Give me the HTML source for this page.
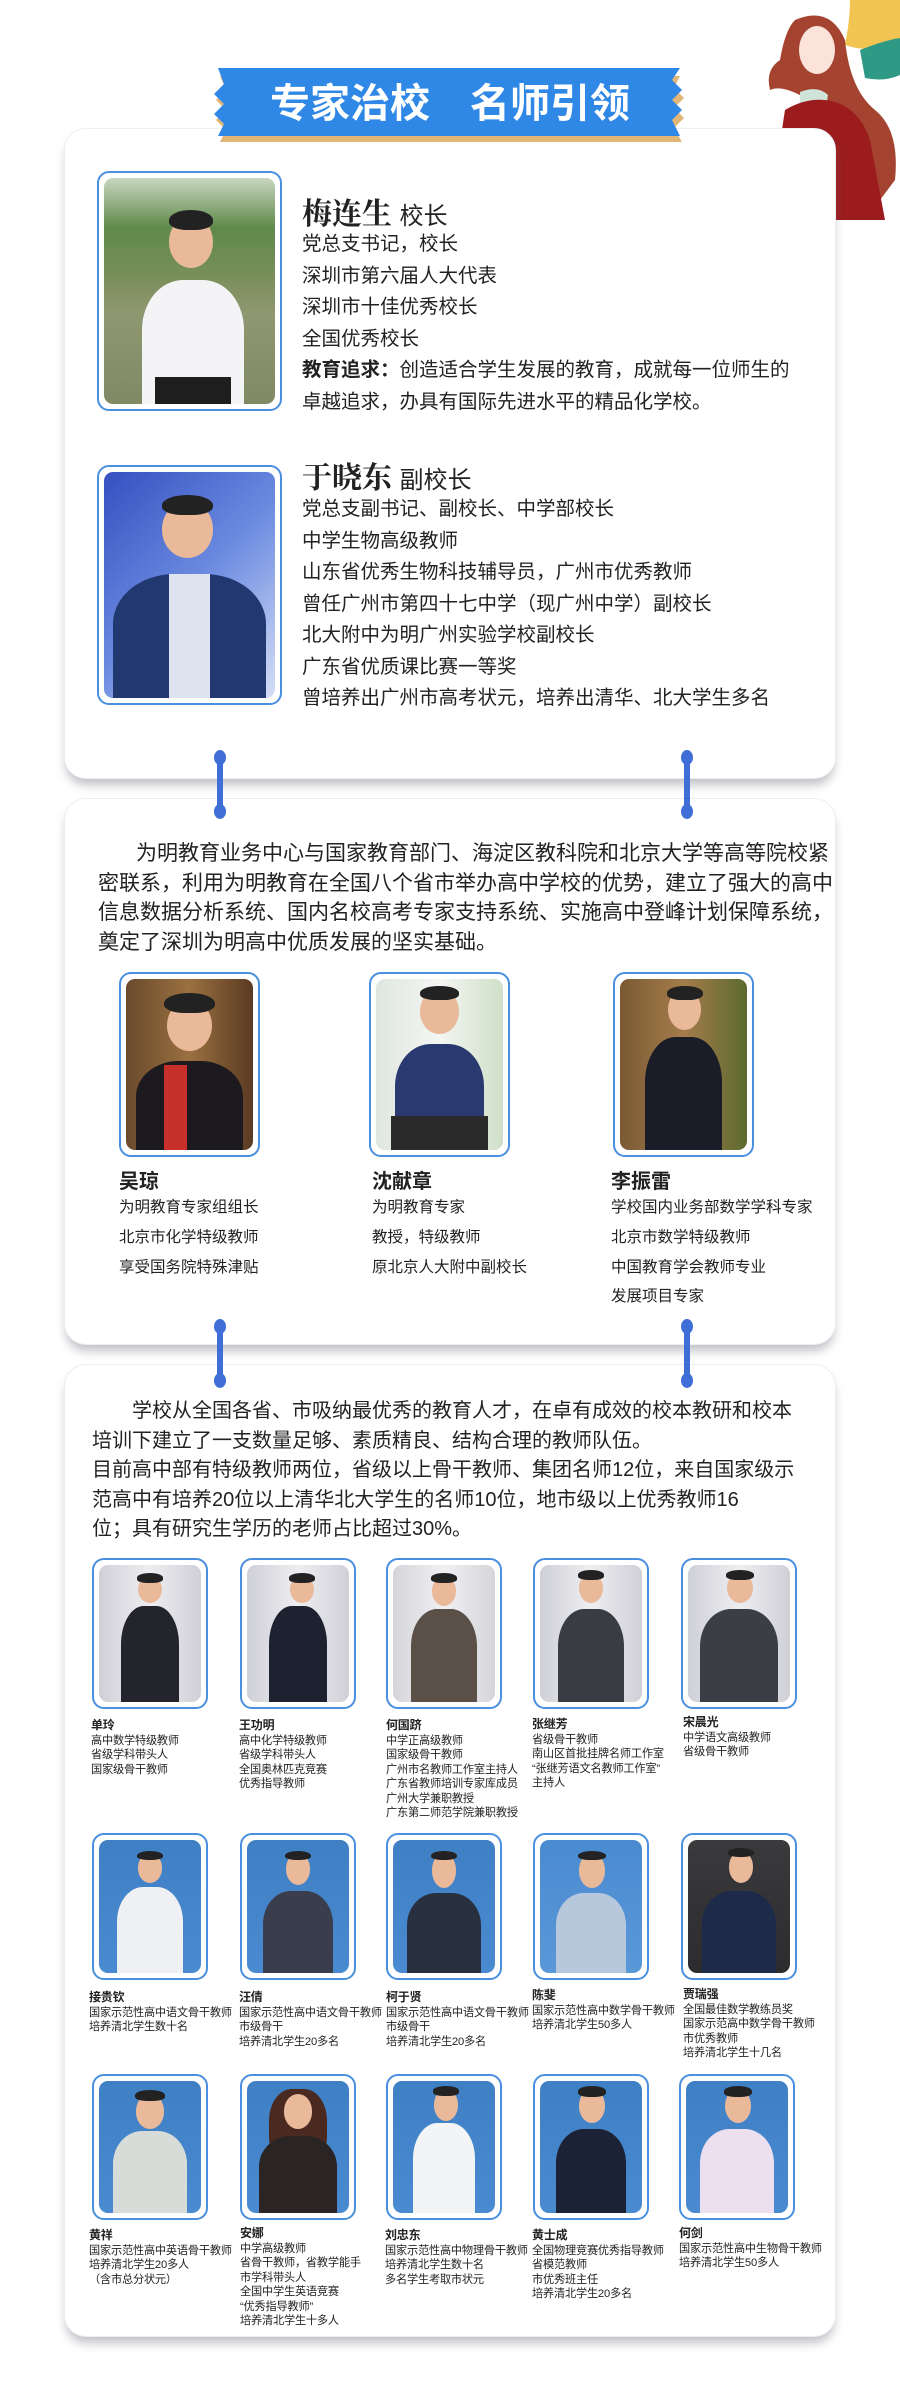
<!DOCTYPE html>
<html><head><meta charset="utf-8"><style>
*{margin:0;padding:0;box-sizing:border-box}
body{width:900px;height:2405px;background:#fff;position:relative;overflow:hidden;font-family:"Liberation Sans","Noto Sans CJK SC",sans-serif;color:#222}
.a{position:absolute}
.card{position:absolute;left:64px;width:772px;background:#fff;border-radius:22px;border:1px solid #eceef2;box-shadow:0 8px 10px -2px rgba(120,120,130,.45)}
.fr{position:absolute;border:2.5px solid #4a8fe0;border-radius:12px;background:#fff;padding:5px}
.in{width:100%;height:100%;border-radius:9px;position:relative;overflow:hidden}
.hd{position:absolute;border-radius:50%;background:#e9b99a}
.hr{position:absolute;border-radius:50% 50% 40% 40%;background:#222}
.bd{position:absolute;border-radius:40% 40% 0 0}
.t{position:absolute;white-space:nowrap}
.l20{font-size:19.5px;line-height:31.5px}
.nm{font-size:20px;font-weight:bold}
.ex{font-size:15.5px;line-height:29.8px}
.g{font-size:11.2px;line-height:14.5px;color:#222;letter-spacing:-.2px}
.g b{font-size:12px}
.con{position:absolute;width:6px;background:#3f6fd6;border-radius:3px}
.dot{position:absolute;width:12px;height:15px;background:#3f6fd6;border-radius:50%}
</style></head><body>

<!-- decoration -->
<svg class="a" style="left:700px;top:0" width="200" height="220" viewBox="0 0 200 220">
<path d="M150 0 L200 0 L200 40 Q175 55 145 45 Q150 20 150 0Z" fill="#f2c552"/>
<path d="M160 50 Q185 40 200 38 L200 75 Q185 82 165 78Z" fill="#2e9a86"/>
<path d="M95 20 Q130 5 145 40 Q150 90 175 110 Q200 130 195 180 L180 200 Q170 140 150 120 L100 95 Q80 85 70 90 Q65 70 80 60 Q85 30 95 20Z" fill="#a4432f"/>
<ellipse cx="117" cy="50" rx="18" ry="24" fill="#fbe3da"/>
<path d="M100 92 Q118 85 128 95 L125 115 Q112 120 100 112Z" fill="#cfe3d8"/>
<path d="M85 110 Q110 95 135 102 Q160 110 170 140 L185 220 L80 220 Q75 170 85 110Z" fill="#9c1c1e"/>
<path d="M22 158 L75 140 L108 178 L60 205Z" fill="#f1f2ff" stroke="#9aa6e6" stroke-width="3"/>
</svg>

<!-- card 1 -->
<div class="card" style="top:128px;height:651px"></div>
<svg class="a" style="left:214px;top:64px" width="472" height="90" viewBox="0 0 472 90">
<polygon points="6,12 466,12 460,24 470,34 460,44 470,54 460,64 468,78 6,78 12,66 2,56 12,46 2,36 12,26" fill="#e2b676"/>
<polygon points="4,4 466,4 458,16 468,26 458,36 468,46 458,56 466,72 4,72 10,60 0,50 10,40 0,30 10,20" fill="#2f88e6"/>
<text x="236" y="53" text-anchor="middle" fill="#fff" font-size="40" font-weight="bold" font-family="Liberation Sans,Noto Sans CJK SC,sans-serif">专家治校　名师引领</text>
</svg>

<div class="fr" style="left:97px;top:171px;width:185px;height:240px"><div class="in" style="background:linear-gradient(#c8d6c0 0%,#5f8a4a 22%,#7b8f5c 45%,#8f9870 60%,#7f8964 100%)">
<div class="bd" style="left:22%;top:45%;width:60%;height:55%;background:#f4f4f6"></div><div class="bd" style="left:30%;top:88%;width:44%;height:12%;background:#1e1e1e;border-radius:0"></div>
<div class="hd" style="left:38%;top:17%;width:26%;height:23%"></div><div class="hr" style="left:38%;top:14%;width:26%;height:9%"></div></div></div>

<div class="t" style="left:302px;top:192px;font-family:'Noto Serif CJK SC',serif;font-size:30px;font-weight:bold;line-height:38px">梅连生 <span style="font-family:'Liberation Sans','Noto Sans CJK SC',sans-serif;font-weight:normal;font-size:24px">校长</span></div>
<div class="t l20" style="left:302px;top:229px">党总支书记，校长<br>深圳市第六届人大代表<br>深圳市十佳优秀校长<br>全国优秀校长<br><b>教育追求：</b>创造适合学生发展的教育，成就每一位师生的<br>卓越追求，办具有国际先进水平的精品化学校。</div>

<div class="fr" style="left:97px;top:465px;width:185px;height:240px"><div class="in" style="background:linear-gradient(135deg,#3550c0 0%,#6a8ae0 50%,#d6def6 100%)">
<div class="bd" style="left:5%;top:45%;width:90%;height:55%;background:#223870"></div><div class="bd" style="left:38%;top:45%;width:24%;height:55%;background:#dde4f0;border-radius:0"></div>
<div class="hd" style="left:34%;top:13%;width:30%;height:25%"></div><div class="hr" style="left:34%;top:10%;width:30%;height:9%"></div></div></div>

<div class="t" style="left:302px;top:456px;font-family:'Noto Serif CJK SC',serif;font-size:30px;font-weight:bold;line-height:38px">于晓东 <span style="font-family:'Liberation Sans','Noto Sans CJK SC',sans-serif;font-weight:normal;font-size:24px">副校长</span></div>
<div class="t l20" style="left:302px;top:494px">党总支副书记、副校长、中学部校长<br>中学生物高级教师<br>山东省优秀生物科技辅导员，广州市优秀教师<br>曾任广州市第四十七中学（现广州中学）副校长<br>北大附中为明广州实验学校副校长<br>广东省优质课比赛一等奖<br>曾培养出广州市高考状元，培养出清华、北大学生多名</div>

<!-- card 2 -->
<div class="card" style="top:798px;height:547px"></div>
<div class="con" style="left:217px;top:752px;height:64px"></div><div class="dot" style="left:214px;top:750px"></div><div class="dot" style="left:214px;top:804px"></div>
<div class="con" style="left:684px;top:752px;height:64px"></div><div class="dot" style="left:681px;top:750px"></div><div class="dot" style="left:681px;top:804px"></div>

<div class="t" style="left:98px;top:839px;font-size:21px;line-height:29.6px"><span style="display:inline-block;width:38px"></span>为明教育业务中心与国家教育部门、海淀区教科院和北京大学等高等院校紧<br>密联系，利用为明教育在全国八个省市举办高中学校的优势，建立了强大的高中<br>信息数据分析系统、国内名校高考专家支持系统、实施高中登峰计划保障系统，<br>奠定了深圳为明高中优质发展的坚实基础。</div>

<div class="fr" style="left:119px;top:972px;width:141px;height:185px"><div class="in" style="background:linear-gradient(90deg,#6a4a2c,#9a7040,#5a3a22)">
<div class="bd" style="left:8%;top:48%;width:84%;height:52%;background:#1c1a1e"></div><div class="bd" style="left:30%;top:50%;width:18%;height:50%;background:#c8302c;border-radius:0"></div>
<div class="hd" style="left:32%;top:12%;width:36%;height:30%"></div><div class="hr" style="left:30%;top:8%;width:40%;height:12%"></div></div></div>
<div class="fr" style="left:369px;top:972px;width:141px;height:185px"><div class="in" style="background:linear-gradient(90deg,#dfe6e0,#f4f6f2,#cfe0c8)">
<div class="bd" style="left:15%;top:38%;width:70%;height:62%;background:#2a3a70"></div><div class="bd" style="left:12%;top:80%;width:76%;height:20%;background:#2a2a2a;border-radius:0"></div>
<div class="hd" style="left:35%;top:6%;width:30%;height:26%"></div><div class="hr" style="left:35%;top:4%;width:30%;height:8%"></div></div></div>
<div class="fr" style="left:613px;top:972px;width:141px;height:185px"><div class="in" style="background:linear-gradient(90deg,#7a5a34,#a47c4a,#5c6a30)">
<div class="bd" style="left:20%;top:34%;width:60%;height:66%;background:#1a1c28"></div>
<div class="hd" style="left:38%;top:6%;width:26%;height:24%"></div><div class="hr" style="left:37%;top:4%;width:28%;height:8%"></div></div></div>

<div class="t" style="left:119px;top:1165px"><div class="nm">吴琼</div></div>
<div class="t" style="left:372px;top:1165px"><div class="nm">沈献章</div></div>
<div class="t" style="left:611px;top:1165px"><div class="nm">李振雷</div></div>
<div class="t ex" style="left:119px;top:1193px">为明教育专家组组长<br>北京市化学特级教师<br>享受国务院特殊津贴</div>
<div class="t ex" style="left:372px;top:1193px">为明教育专家<br>教授，特级教师<br>原北京人大附中副校长</div>
<div class="t ex" style="left:611px;top:1193px">学校国内业务部数学学科专家<br>北京市数学特级教师<br>中国教育学会教师专业<br>发展项目专家</div>

<!-- card 3 -->
<div class="card" style="top:1364px;height:973px"></div>
<div class="con" style="left:217px;top:1322px;height:62px"></div><div class="dot" style="left:214px;top:1319px"></div><div class="dot" style="left:214px;top:1373px"></div>
<div class="con" style="left:684px;top:1322px;height:62px"></div><div class="dot" style="left:681px;top:1319px"></div><div class="dot" style="left:681px;top:1373px"></div>

<div class="t" style="left:92px;top:1397px;font-size:20px;line-height:29.5px">　　学校从全国各省、市吸纳最优秀的教育人才，在卓有成效的校本教研和校本<br>培训下建立了一支数量足够、素质精良、结构合理的教师队伍。<br>目前高中部有特级教师两位，省级以上骨干教师、集团名师12位，来自国家级示<br>范高中有培养20位以上清华北大学生的名师10位，地市级以上优秀教师16<br>位；具有研究生学历的老师占比超过30%。</div>

<!-- row 1 -->
<div class="fr" style="left:92px;top:1558px;width:116px;height:151px"><div class="in" style="background:linear-gradient(90deg,#cfd0d6,#eeeef2,#cfd0d6)"><div class="bd" style="left:22%;top:30%;width:56%;height:70%;background:#23242c"></div><div class="hd" style="left:38%;top:8%;width:24%;height:20%"></div><div class="hr" style="left:37%;top:6%;width:26%;height:7%"></div></div></div>
<div class="fr" style="left:240px;top:1558px;width:116px;height:151px"><div class="in" style="background:linear-gradient(90deg,#cfd0d6,#eeeef2,#cfd0d6)"><div class="bd" style="left:22%;top:30%;width:56%;height:70%;background:#1e2230"></div><div class="hd" style="left:42%;top:8%;width:24%;height:20%"></div><div class="hr" style="left:41%;top:6%;width:26%;height:7%"></div></div></div>
<div class="fr" style="left:386px;top:1558px;width:116px;height:151px"><div class="in" style="background:linear-gradient(90deg,#d4d5da,#f0f0f3,#d4d5da)"><div class="bd" style="left:18%;top:32%;width:64%;height:68%;background:#5a5048"></div><div class="hd" style="left:38%;top:8%;width:24%;height:22%"></div><div class="hr" style="left:37%;top:6%;width:26%;height:7%"></div></div></div>
<div class="fr" style="left:533px;top:1558px;width:116px;height:151px"><div class="in" style="background:linear-gradient(90deg,#cfd0d6,#eeeef2,#cfd0d6)"><div class="bd" style="left:18%;top:32%;width:64%;height:68%;background:#3a3c44"></div><div class="hd" style="left:38%;top:6%;width:24%;height:22%"></div><div class="hr" style="left:37%;top:4%;width:26%;height:7%"></div></div></div>
<div class="fr" style="left:681px;top:1558px;width:116px;height:151px"><div class="in" style="background:linear-gradient(90deg,#cfd0d6,#eeeef2,#cfd0d6)"><div class="bd" style="left:12%;top:32%;width:76%;height:68%;background:#3c3e46"></div><div class="hd" style="left:38%;top:6%;width:26%;height:22%"></div><div class="hr" style="left:37%;top:4%;width:28%;height:7%"></div></div></div>

<div class="t g" style="left:91px;top:1718px"><b>单玲</b><br>高中数学特级教师<br>省级学科带头人<br>国家级骨干教师</div>
<div class="t g" style="left:239px;top:1718px"><b>王功明</b><br>高中化学特级教师<br>省级学科带头人<br>全国奥林匹克竞赛<br>优秀指导教师</div>
<div class="t g" style="left:386px;top:1718px"><b>何国跻</b><br>中学正高级教师<br>国家级骨干教师<br>广州市名教师工作室主持人<br>广东省教师培训专家库成员<br>广州大学兼职教授<br>广东第二师范学院兼职教授</div>
<div class="t g" style="left:532px;top:1717px"><b>张继芳</b><br>省级骨干教师<br>南山区首批挂牌名师工作室<br>“张继芳语文名教师工作室”<br>主持人</div>
<div class="t g" style="left:683px;top:1715px"><b>宋晨光</b><br>中学语文高级教师<br>省级骨干教师</div>

<!-- row 2 -->
<div class="fr" style="left:92px;top:1833px;width:116px;height:147px"><div class="in" style="background:linear-gradient(#3f7fc4,#4a8ad0)"><div class="bd" style="left:18%;top:35%;width:64%;height:65%;background:#eef0f4"></div><div class="hd" style="left:38%;top:10%;width:24%;height:22%"></div><div class="hr" style="left:37%;top:8%;width:26%;height:7%"></div></div></div>
<div class="fr" style="left:240px;top:1833px;width:116px;height:147px"><div class="in" style="background:linear-gradient(#3f7fc4,#4a8ad0)"><div class="bd" style="left:16%;top:38%;width:68%;height:62%;background:#3a3e4c"></div><div class="hd" style="left:38%;top:10%;width:24%;height:24%"></div><div class="hr" style="left:37%;top:8%;width:26%;height:7%"></div></div></div>
<div class="fr" style="left:386px;top:1833px;width:116px;height:147px"><div class="in" style="background:linear-gradient(#3f7fc4,#4a8ad0)"><div class="bd" style="left:14%;top:40%;width:72%;height:60%;background:#283040"></div><div class="hd" style="left:38%;top:10%;width:24%;height:26%"></div><div class="hr" style="left:37%;top:8%;width:26%;height:7%"></div></div></div>
<div class="fr" style="left:533px;top:1833px;width:116px;height:147px"><div class="in" style="background:linear-gradient(#4a8ad0,#5a98d8)"><div class="bd" style="left:16%;top:40%;width:68%;height:60%;background:#b8c8dc"></div><div class="hd" style="left:38%;top:10%;width:26%;height:26%"></div><div class="hr" style="left:37%;top:8%;width:28%;height:7%"></div></div></div>
<div class="fr" style="left:681px;top:1833px;width:116px;height:147px"><div class="in" style="background:linear-gradient(#3a3a3c,#2c2c2e)"><div class="bd" style="left:14%;top:38%;width:72%;height:62%;background:#1e2a4a"></div><div class="hd" style="left:40%;top:8%;width:24%;height:24%"></div><div class="hr" style="left:39%;top:6%;width:26%;height:7%"></div></div></div>

<div class="t g" style="left:89px;top:1990px"><b>接贵钦</b><br>国家示范性高中语文骨干教师<br>培养清北学生数十名</div>
<div class="t g" style="left:239px;top:1990px"><b>汪倩</b><br>国家示范性高中语文骨干教师<br>市级骨干<br>培养清北学生20多名</div>
<div class="t g" style="left:386px;top:1990px"><b>柯于贤</b><br>国家示范性高中语文骨干教师<br>市级骨干<br>培养清北学生20多名</div>
<div class="t g" style="left:532px;top:1988px"><b>陈斐</b><br>国家示范性高中数学骨干教师<br>培养清北学生50多人</div>
<div class="t g" style="left:683px;top:1987px"><b>贾瑞强</b><br>全国最佳数学教练员奖<br>国家示范高中数学骨干教师<br>市优秀教师<br>培养清北学生十几名</div>

<!-- row 3 -->
<div class="fr" style="left:92px;top:2074px;width:116px;height:146px"><div class="in" style="background:linear-gradient(#3f7fc4,#4a8ad0)"><div class="bd" style="left:14%;top:38%;width:72%;height:62%;background:#d8dcd8"></div><div class="hd" style="left:36%;top:10%;width:28%;height:26%"></div><div class="hr" style="left:35%;top:7%;width:30%;height:8%"></div></div></div>
<div class="fr" style="left:240px;top:2074px;width:116px;height:146px"><div class="in" style="background:linear-gradient(#3f7fc4,#4a8ad0)"><div class="hr" style="left:22%;top:6%;width:56%;height:60%;border-radius:40%;background:#4a2a20"></div><div class="bd" style="left:12%;top:42%;width:76%;height:58%;background:#2a2424"></div><div class="hd" style="left:36%;top:10%;width:28%;height:26%"></div></div></div>
<div class="fr" style="left:386px;top:2074px;width:116px;height:146px"><div class="in" style="background:linear-gradient(#3f7fc4,#4a8ad0)"><div class="bd" style="left:20%;top:32%;width:60%;height:68%;background:#f2f4f6"></div><div class="hd" style="left:40%;top:6%;width:24%;height:24%"></div><div class="hr" style="left:39%;top:4%;width:26%;height:7%"></div></div></div>
<div class="fr" style="left:533px;top:2074px;width:116px;height:146px"><div class="in" style="background:linear-gradient(#3f7fc4,#4a8ad0)"><div class="bd" style="left:16%;top:36%;width:68%;height:64%;background:#1c2236"></div><div class="hd" style="left:38%;top:6%;width:26%;height:26%"></div><div class="hr" style="left:37%;top:4%;width:28%;height:8%"></div></div></div>
<div class="fr" style="left:679px;top:2074px;width:116px;height:146px"><div class="in" style="background:linear-gradient(#3f7fc4,#4a8ad0)"><div class="bd" style="left:14%;top:36%;width:72%;height:64%;background:#ecdff0"></div><div class="hd" style="left:38%;top:6%;width:26%;height:26%"></div><div class="hr" style="left:37%;top:4%;width:28%;height:8%"></div></div></div>

<div class="t g" style="left:89px;top:2228px"><b>黄祥</b><br>国家示范性高中英语骨干教师<br>培养清北学生20多人<br>（含市总分状元）</div>
<div class="t g" style="left:240px;top:2226px"><b>安娜</b><br>中学高级教师<br>省骨干教师，省教学能手<br>市学科带头人<br>全国中学生英语竞赛<br>“优秀指导教师”<br>培养清北学生十多人</div>
<div class="t g" style="left:385px;top:2228px"><b>刘忠东</b><br>国家示范性高中物理骨干教师<br>培养清北学生数十名<br>多名学生考取市状元</div>
<div class="t g" style="left:532px;top:2228px"><b>黄士成</b><br>全国物理竞赛优秀指导教师<br>省模范教师<br>市优秀班主任<br>培养清北学生20多名</div>
<div class="t g" style="left:679px;top:2226px"><b>何剑</b><br>国家示范性高中生物骨干教师<br>培养清北学生50多人</div>

</body></html>
